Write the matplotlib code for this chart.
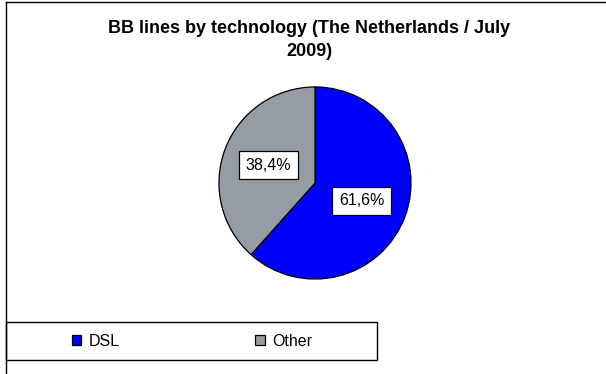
"""BB lines by technology pie chart (The Netherlands / July 2009)."""
import matplotlib

matplotlib.use("Agg")
import matplotlib.pyplot as plt
from matplotlib.lines import Line2D
from matplotlib.patches import Rectangle

# chart data
categories = ["DSL", "Other"]
shares = [61.6, 38.4]
colors = ["#0000FF", "#969CA4"]
title = "BB lines by technology (The Netherlands / July\n2009)"

W, H = 606, 374

plt.rcParams["font.family"] = ["Liberation Sans", "DejaVu Sans"]

fig = plt.figure(figsize=(W / 100, H / 100), dpi=100)
fig.patch.set_facecolor("white")


def fx(px):
    return px / W


def fy(py):
    return 1 - py / H


# outer chart-area frame (only top and left edges visible)
fig.add_artist(Line2D([fx(6), fx(606)], [fy(2), fy(2)], color="black", lw=1.0))
fig.add_artist(Line2D([fx(6), fx(6)], [fy(2), fy(374)], color="black", lw=1.0))

fig.text(fx(309), fy(40), title, ha="center", va="center",
         fontsize=13, fontweight="bold", linespacing=1.4)

# pie: centre (315, 183), radius ~97 px
r = 97
ax = fig.add_axes([fx(315 - r), fy(183 + r), 2 * r / W, 2 * r / H])
wedges, _, autotexts = ax.pie(
    shares,
    colors=colors,
    startangle=90,
    counterclock=False,
    autopct=lambda p: f"{p:.1f}%".replace(".", ","),
    pctdistance=0.52,
    wedgeprops={"edgecolor": "black", "linewidth": 0.9},
    textprops={"fontsize": 11.5},
)
for t in autotexts:
    t.set_bbox({"boxstyle": "square,pad=0.42", "facecolor": "white",
                "edgecolor": "black", "linewidth": 0.9})
ax.set_xlim(-1.01, 1.01)
ax.set_ylim(-1.01, 1.01)
ax.set_aspect("auto")
ax.axis("off")

# legend box
fig.add_artist(Rectangle((fx(6), fy(360)), fx(377) - fx(6), fy(322) - fy(360),
                         transform=fig.transFigure, facecolor="white",
                         edgecolor="black", lw=1.0))
fig.legend(
    wedges,
    categories,
    loc="center",
    bbox_to_anchor=(fx(192), fy(341)),
    ncol=2,
    frameon=False,
    fontsize=11.5,
    handlelength=0.6,
    handleheight=0.6,
    handletextpad=0.45,
    columnspacing=8.5,
)

fig.savefig("out.png", dpi=100)
